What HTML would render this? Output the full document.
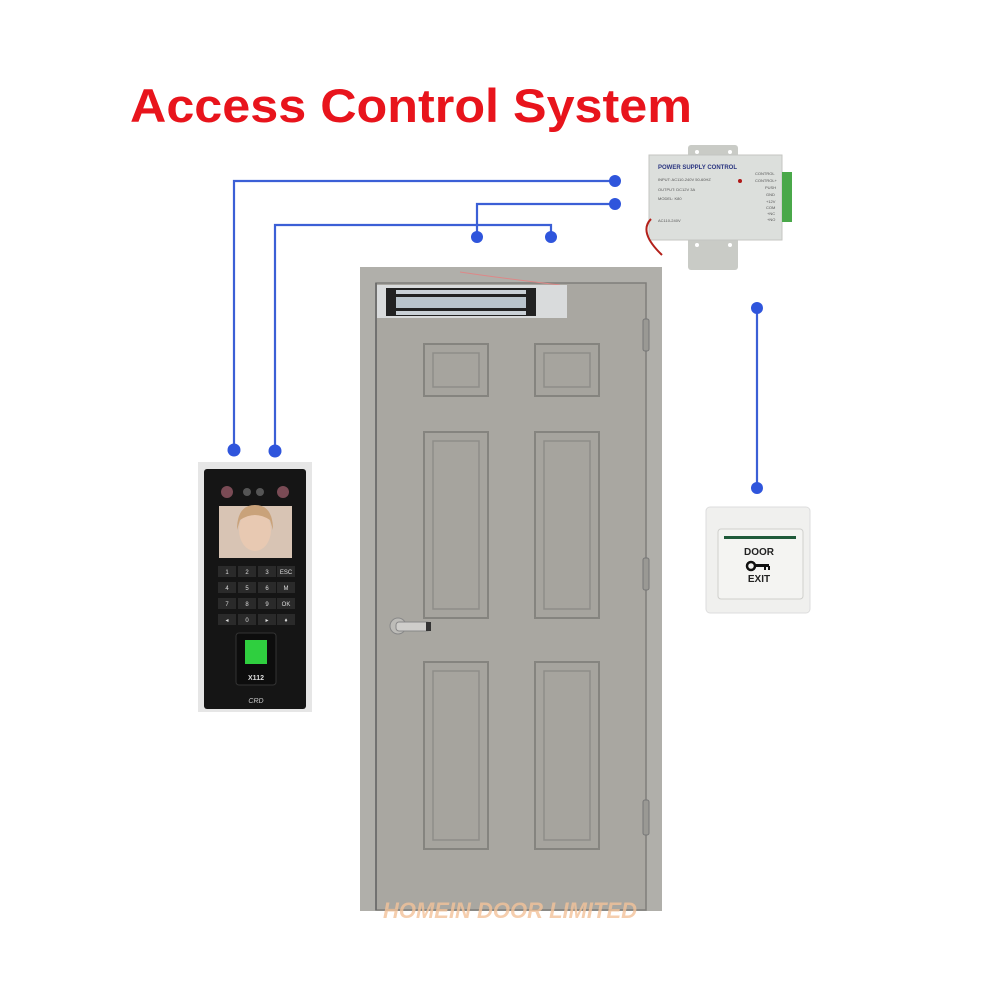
<!DOCTYPE html>
<html><head><meta charset="utf-8"><style>
html,body{margin:0;padding:0;background:#fff;width:1000px;height:1000px;overflow:hidden}
svg{display:block}
</style></head><body>
<svg width="1000" height="1000" viewBox="0 0 1000 1000" xmlns="http://www.w3.org/2000/svg" font-family="Liberation Sans, sans-serif">
<rect width="1000" height="1000" fill="#fff"/>
<text x="130" y="122" font-size="47" font-weight="bold" fill="#e8141c" textLength="562" lengthAdjust="spacingAndGlyphs">Access Control System</text>

<!-- wires -->
<g stroke="#3b5fd6" stroke-width="2.2" fill="none">
<polyline points="234,450 234,181 615,181"/>
<polyline points="477,237 477,204 615,204"/>
<polyline points="275,450 275,225 551,225 551,237"/>
<line x1="757" y1="308" x2="757" y2="488"/>
</g>
<g fill="#2f55dc">
<circle cx="615" cy="181" r="6"/><circle cx="615" cy="204" r="6"/>
<circle cx="477" cy="237" r="6"/><circle cx="551" cy="237" r="6"/>
<circle cx="234" cy="450" r="6.5"/><circle cx="275" cy="451" r="6.5"/>
<circle cx="757" cy="308" r="6"/><circle cx="757" cy="488" r="6"/>
</g>

<!-- power supply -->
<rect x="688" y="145" width="50" height="125" fill="#c9cbc6" rx="3"/>
<rect x="649" y="155" width="133" height="85" fill="#dcdfdc" stroke="#c4c6c2"/>
<g fill="#fff"><circle cx="697" cy="152" r="2"/><circle cx="730" cy="152" r="2"/><circle cx="697" cy="245" r="2"/><circle cx="730" cy="245" r="2"/></g>
<rect x="782" y="172" width="10" height="50" fill="#4aa84a"/>
<path d="M651 219 Q638 232 662 255" stroke="#b3201a" stroke-width="2" fill="none"/>
<text x="658" y="169" font-size="6" font-weight="bold" fill="#2a3580">POWER SUPPLY CONTROL</text>
<g font-size="4" fill="#555">
<text x="658" y="181">INPUT: AC110-240V 50-60HZ</text>
<text x="658" y="191">OUTPUT: DC12V 3A</text>
<text x="658" y="200">MODEL: K80</text>
<text x="658" y="222">AC110-240V</text>
<text x="755" y="175">CONTROL</text><text x="755" y="182">CONTROL+</text>
<text x="765" y="189">PUSH</text><text x="766" y="196">GND</text>
<text x="766" y="203">+12V</text><text x="766" y="209">COM</text>
<text x="767" y="215">+NC</text><text x="767" y="221">+NO</text>
</g>
<circle cx="740" cy="181" r="2" fill="#b01818"/>

<!-- door frame -->
<rect x="360" y="267" width="302" height="644" fill="#b0afaa"/>
<rect x="376" y="283" width="270" height="627" fill="#a9a7a1" stroke="#7f7e7a" stroke-width="1.5"/>
<line x1="376" y1="283" x2="376" y2="910" stroke="#666" stroke-width="1.5"/>
<path d="M460 272 Q500 278 560 285" stroke="#d88" stroke-width="1" fill="none"/>
<!-- magnet lock -->
<rect x="377" y="285" width="190" height="33" fill="#d9dbdc"/>
<rect x="386" y="288" width="150" height="28" fill="#222"/>
<rect x="396" y="290" width="130" height="4" fill="#c9d0d6"/>
<rect x="396" y="297" width="130" height="11" fill="#b9c4cc"/>
<rect x="396" y="311" width="130" height="4" fill="#c9d0d6"/>
<!-- panels -->
<g fill="#a6a49e" stroke="#85847f" stroke-width="2">
<rect x="424" y="344" width="64" height="52"/><rect x="535" y="344" width="64" height="52"/>
<rect x="424" y="432" width="64" height="186"/><rect x="535" y="432" width="64" height="186"/>
<rect x="424" y="662" width="64" height="187"/><rect x="535" y="662" width="64" height="187"/>
</g>
<g fill="none" stroke="#8e8d88" stroke-width="1.5">
<rect x="433" y="353" width="46" height="34"/><rect x="544" y="353" width="46" height="34"/>
<rect x="433" y="441" width="46" height="168"/><rect x="544" y="441" width="46" height="168"/>
<rect x="433" y="671" width="46" height="169"/><rect x="544" y="671" width="46" height="169"/>
</g>
<!-- handle -->
<circle cx="398" cy="626" r="8" fill="#bdbcb8" stroke="#888"/>
<rect x="396" y="622" width="34" height="9" rx="3" fill="#cfcecb" stroke="#888"/>
<rect x="426" y="622" width="5" height="9" fill="#333"/>
<!-- hinges -->
<g fill="#9a9994" stroke="#777"><rect x="643" y="319" width="6" height="32" rx="2"/><rect x="643" y="558" width="6" height="32" rx="2"/><rect x="643" y="800" width="6" height="35" rx="2"/></g>
<text x="383" y="918" font-size="22" font-weight="bold" font-style="italic" fill="#f3c39a" opacity="0.8" textLength="254" lengthAdjust="spacingAndGlyphs">HOMEIN DOOR LIMITED</text>

<!-- terminal -->
<rect x="198" y="462" width="114" height="250" fill="#e6e6e6"/>
<rect x="204" y="469" width="102" height="240" rx="3" fill="#151515"/>
<circle cx="227" cy="492" r="6" fill="#7a4b55"/><circle cx="247" cy="492" r="4" fill="#555"/><circle cx="260" cy="492" r="4" fill="#555"/><circle cx="283" cy="492" r="6" fill="#7a4b55"/>
<rect x="219" y="506" width="73" height="52" fill="#d8c4b4"/>
<ellipse cx="255" cy="530" rx="16" ry="21" fill="#e8c9b2"/>
<path d="M237 530 Q237 505 255 505 Q273 505 273 530 L270 520 Q255 510 240 520Z" fill="#c9a27a"/>
<g fill="#2a2a2a" font-size="6" text-anchor="middle">
<rect x="218" y="566" width="18" height="11"/><rect x="238" y="566" width="18" height="11"/><rect x="258" y="566" width="18" height="11"/><rect x="277" y="566" width="18" height="11"/>
<rect x="218" y="582" width="18" height="11"/><rect x="238" y="582" width="18" height="11"/><rect x="258" y="582" width="18" height="11"/><rect x="277" y="582" width="18" height="11"/>
<rect x="218" y="598" width="18" height="11"/><rect x="238" y="598" width="18" height="11"/><rect x="258" y="598" width="18" height="11"/><rect x="277" y="598" width="18" height="11"/>
<rect x="218" y="614" width="18" height="11"/><rect x="238" y="614" width="18" height="11"/><rect x="258" y="614" width="18" height="11"/><rect x="277" y="614" width="18" height="11"/>
<g fill="#ddd">
<text x="227" y="574">1</text><text x="247" y="574">2</text><text x="267" y="574">3</text><text x="286" y="574">ESC</text>
<text x="227" y="590">4</text><text x="247" y="590">5</text><text x="267" y="590">6</text><text x="286" y="590">M</text>
<text x="227" y="606">7</text><text x="247" y="606">8</text><text x="267" y="606">9</text><text x="286" y="606">OK</text>
<text x="227" y="622">◂</text><text x="247" y="622">0</text><text x="267" y="622">▸</text><text x="286" y="622">♦</text>
</g></g>
<rect x="236" y="633" width="40" height="52" rx="3" fill="#0d0d0d" stroke="#333"/>
<rect x="245" y="640" width="22" height="24" fill="#2fcf3f"/>
<text x="256" y="680" font-size="7" font-weight="bold" fill="#ddd" text-anchor="middle">X112</text>
<text x="256" y="703" font-size="7" fill="#ccc" text-anchor="middle" font-style="italic">CRD</text>

<!-- exit button -->
<rect x="706" y="507" width="104" height="106" rx="4" fill="#f0f0ee" stroke="#ddd"/>
<rect x="718" y="529" width="85" height="70" rx="3" fill="#f4f4f2" stroke="#cfcfcc"/>
<rect x="724" y="536" width="72" height="3" fill="#1f5a3a"/>
<text x="759" y="555" font-size="10" font-weight="bold" fill="#222" text-anchor="middle">DOOR</text>
<circle cx="751" cy="566" r="4" fill="none" stroke="#111" stroke-width="2.5"/>
<rect x="755" y="564" width="14" height="3" fill="#111"/><rect x="764" y="566" width="2" height="4" fill="#111"/><rect x="768" y="566" width="2" height="4" fill="#111"/>
<text x="759" y="582" font-size="10" font-weight="bold" fill="#222" text-anchor="middle">EXIT</text>
</svg>
</body></html>
